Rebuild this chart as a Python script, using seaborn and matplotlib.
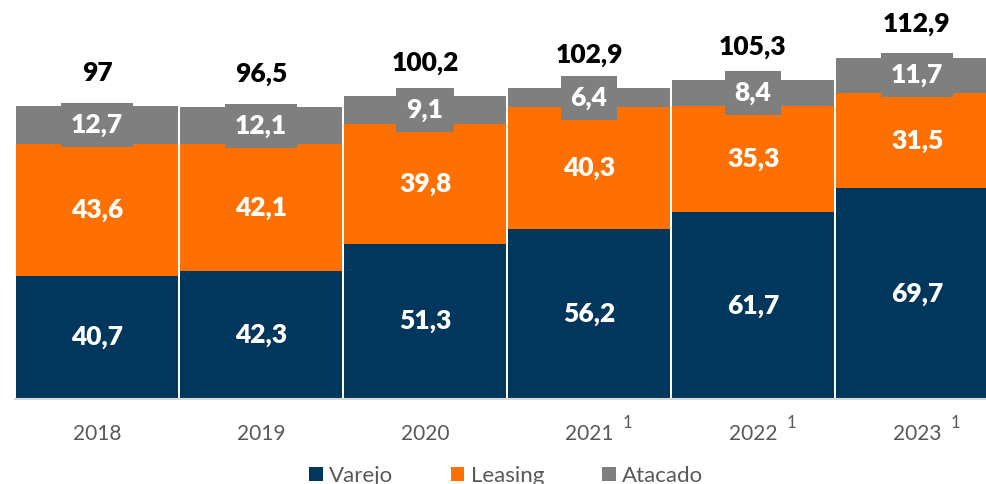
import matplotlib
matplotlib.use("Agg")
import matplotlib.pyplot as plt
import matplotlib.transforms as mtransforms
from matplotlib.patches import Patch
import seaborn as sns
import pandas as pd

years = ["2018", "2019", "2020", "2021", "2022", "2023"]
superscripts = ["", "", "", "1", "1", "1"]
varejo = [40.7, 42.3, 51.3, 56.2, 61.7, 69.7]
leasing = [43.6, 42.1, 39.8, 40.3, 35.3, 31.5]
atacado = [12.7, 12.1, 9.1, 6.4, 8.4, 11.7]
totals = [97, 96.5, 100.2, 102.9, 105.3, 112.9]
series_names = ["Varejo", "Leasing", "Atacado"]

c_navy = "#02375D"
c_orange = "#FF7000"
c_gray = "#7F7F7F"
c_text = "#595959"

def fmt(v):
    s = ("%.1f" % v).rstrip("0").rstrip(".")
    return s.replace(".", ",")

sns.set_theme(style="white")
plt.rcParams["font.family"] = ["Lato", "DejaVu Sans"]

fig = plt.figure(figsize=(9.87, 4.84), dpi=100)
ax = fig.add_axes([15 / 987, 85 / 484, 984 / 987, 399 / 484])

df = pd.DataFrame({"year": years, "Varejo": varejo, "Leasing": leasing, "Atacado": atacado})
bottom_l = df["Varejo"].values
bottom_a = (df["Varejo"] + df["Leasing"]).values

bw = 0.988
sns.barplot(data=df, x="year", y="Varejo", color=c_navy, width=bw, ax=ax,
            saturation=1, linewidth=0)
sns.barplot(data=df, x="year", y="Leasing", color=c_orange, width=bw, ax=ax,
            saturation=1, linewidth=0, bottom=bottom_l)
sns.barplot(data=df, x="year", y="Atacado", color=c_gray, width=bw, ax=ax,
            saturation=1, linewidth=0, bottom=bottom_a)

ax.set_xlim(-0.5, 5.5)
ax.set_ylim(0, 132)
ax.set_xlabel("")
ax.set_ylabel("")
ax.set_yticks([])

fs = 19
for i in range(len(years)):
    v, l, a = varejo[i], leasing[i], atacado[i]
    ax.text(i, v / 2, fmt(v), ha="center", va="center", color="white",
            fontsize=fs, fontweight="heavy")
    ax.text(i, v + l / 2, fmt(l), ha="center", va="center", color="white",
            fontsize=fs, fontweight="heavy")
    ax.text(i, v + l + a / 2, fmt(a), ha="center", va="center", color="white",
            fontsize=fs, fontweight="heavy",
            bbox=dict(boxstyle="square,pad=0.38", fc=c_gray, ec="none"))
    ax.text(i, totals[i] + 11, fmt(totals[i]), ha="center", va="center",
            color="black", fontsize=fs, fontweight="heavy")

ax.set_xticks(range(len(years)))
ax.set_xticklabels(years, color=c_text, fontsize=15)
ax.tick_params(axis="x", length=0, pad=18)

trans = mtransforms.blended_transform_factory(ax.transData, fig.transFigure)
for i, s in enumerate(superscripts):
    if s:
        ax.text(i + 0.235, 1 - 423 / 484, s, transform=trans, ha="center",
                va="center", color=c_text, fontsize=12)

for side in ["left", "right", "top"]:
    ax.spines[side].set_visible(False)
ax.spines["bottom"].set_color("#D9D9D9")
ax.spines["bottom"].set_linewidth(1.5)

handles = [Patch(facecolor=c, edgecolor="none") for c in (c_navy, c_orange, c_gray)]
fig.legend(handles, series_names, loc="center", bbox_to_anchor=(0.513, 0.017),
           ncol=3, frameon=False, fontsize=16, labelcolor=c_text,
           handlelength=0.6, handleheight=0.6, handletextpad=0.3,
           columnspacing=2.6)

fig.savefig("out.png", dpi=100)
